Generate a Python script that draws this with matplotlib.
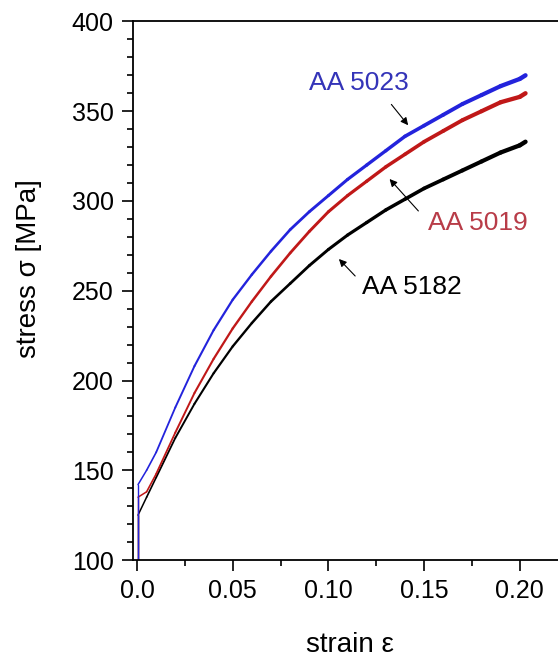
import numpy as np
from matplotlib import pyplot as plt
from matplotlib.collections import LineCollection
from matplotlib.ticker import MultipleLocator

plt.rcParams['font.family'] = ['Liberation Sans', 'DejaVu Sans']

# strain values shared by the three curves
strain = [0.0005, 0.0005, 0.005, 0.01, 0.02, 0.03, 0.04, 0.05, 0.06, 0.07,
          0.08, 0.09, 0.10, 0.11, 0.12, 0.13, 0.14, 0.15, 0.16, 0.17,
          0.18, 0.19, 0.20, 0.203]

# stress in MPa
stress_5023 = [95, 142, 150, 160, 185, 208, 228, 245, 259, 272,
               284, 294, 303, 312, 320, 328, 336, 342, 348, 354,
               359, 364, 368, 370]
stress_5019 = [95, 135, 138, 148, 171, 193, 212, 229, 244, 258,
               271, 283, 294, 303, 311, 319, 326, 333, 339, 345,
               350, 355, 358, 360]
stress_5182 = [95, 125, 135, 146, 168, 187, 204, 219, 232, 244,
               254, 264, 273, 281, 288, 295, 301, 307, 312, 317,
               322, 327, 331, 333]

fig = plt.figure(figsize=(5.58, 6.57), dpi=100)
ax = fig.add_axes([0.2384, 0.1476, 0.7616, 0.8197])

curves = [(stress_5182, 'black'), (stress_5019, '#c01818'),
          (stress_5023, '#2323dc')]
for stress, col in curves:
    pts = np.column_stack([strain, stress])
    segs = np.stack([pts[:-1], pts[1:]], axis=1)
    # the measured record gets noisier with strain, so the band widens
    widths = np.linspace(1.0, 3.2, len(segs))
    lc = LineCollection(segs, colors=col, linewidths=widths,
                        capstyle='round', joinstyle='round')
    ax.add_collection(lc)

ax.set_xlim(-0.0021, 0.22)
ax.set_ylim(100, 400)
ax.xaxis.set_minor_locator(MultipleLocator(0.025))
ax.yaxis.set_major_locator(MultipleLocator(50))
ax.yaxis.set_minor_locator(MultipleLocator(10))
ax.set_xticks([0.0, 0.05, 0.10, 0.15, 0.20])
ax.set_xticklabels(['0.0', '0.05', '0.10', '0.15', '0.20'])

ax.spines['right'].set_visible(False)
for s in ['left', 'bottom', 'top']:
    ax.spines[s].set_linewidth(1.3)

ax.tick_params(which='major', length=8, width=1.2, labelsize=18, pad=6)
ax.tick_params(which='minor', length=4, width=1.2)
ax.tick_params(top=False, right=False, which='both')

ax.set_xlabel('strain ε', fontsize=20)
ax.set_ylabel('stress σ [MPa]', fontsize=20)
ax.xaxis.set_label_coords(0.511, -0.134)
ax.yaxis.set_label_coords(-0.215, 0.542)

arrow = dict(arrowstyle='-|>', color='black', lw=0.8, mutation_scale=11)
ax.annotate('AA 5023', xy=(0.1426, 341), xytext=(0.116, 365.7),
            ha='center', va='center', fontsize=19, color='#3434b8')
ax.annotate('', xy=(0.1426, 341), xytext=(0.132, 355), arrowprops=arrow)
ax.annotate('AA 5019', xy=(0.131, 313.4), xytext=(0.178, 287.7),
            ha='center', va='center', fontsize=19, color='#b83c48')
ax.annotate('', xy=(0.131, 313.4), xytext=(0.148, 293.3), arrowprops=arrow)
ax.annotate('AA 5182', xy=(0.1045, 268.8), xytext=(0.1437, 252.1),
            ha='center', va='center', fontsize=19, color='black')
ax.annotate('', xy=(0.1045, 268.8), xytext=(0.115, 257.1), arrowprops=arrow)

fig.savefig('out.png', dpi=100)
